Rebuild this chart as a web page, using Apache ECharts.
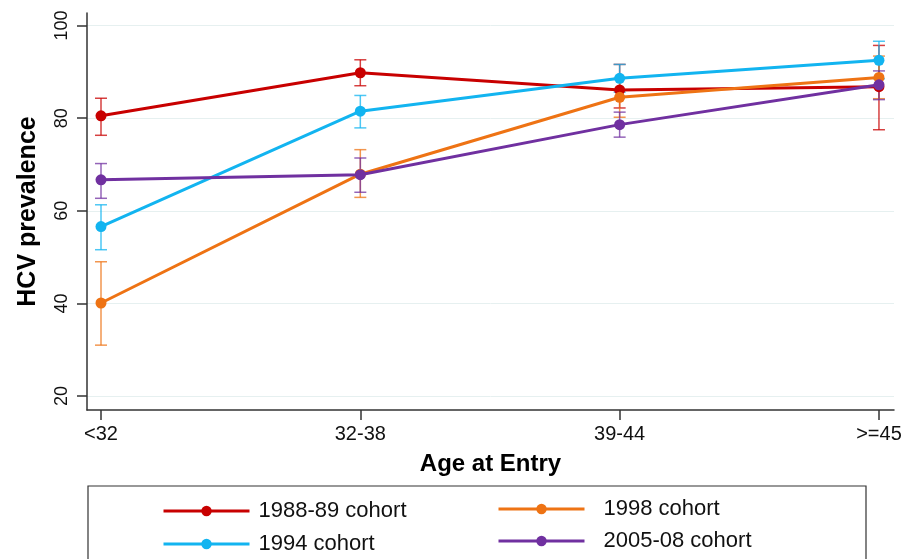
<!DOCTYPE html>
<html>
<head>
<meta charset="utf-8">
<script src="https://cdn.jsdelivr.net/npm/echarts@6/dist/echarts.min.js"></script>
<style>html,body{margin:0;padding:0;background:#fff;}#c{width:901px;height:559px;}</style>
</head>
<body>
<div id="c"></div>
<script>
const categories = ['<32', '32-38', '39-44', '>=45'];
const yTicks = [20, 40, 60, 80, 100];
const seriesNames = ['1988-89 cohort', '1994 cohort', '1998 cohort', '2005-08 cohort'];

const cohort8889 = [80.5, 89.8, 86.1, 86.8];
const cohort8889Low = [76.3, 87.0, 82.2, 77.5];
const cohort8889High = [84.3, 92.6, 91.6, 95.7];

const cohort1994 = [56.6, 81.5, 88.6, 92.5];
const cohort1994Low = [51.6, 77.9, 85.6, 88.5];
const cohort1994High = [61.3, 84.9, 91.6, 96.6];

const cohort1998 = [40.1, 67.9, 84.5, 88.8];
const cohort1998Low = [31.0, 62.9, 80.2, 84.2];
const cohort1998High = [49.0, 73.2, 88.6, 93.4];

const cohort0508 = [66.7, 67.8, 78.6, 87.2];
const cohort0508Low = [62.7, 64.0, 75.9, 84.0];
const cohort0508High = [70.2, 71.4, 81.3, 90.2];

const colors = ['#c80000', '#12b4f0', '#ee7314', '#7030a0'];
const values = [cohort8889, cohort1994, cohort1998, cohort0508];
const lows = [cohort8889Low, cohort1994Low, cohort1998Low, cohort0508Low];
const highs = [cohort8889High, cohort1994High, cohort1998High, cohort0508High];

function errRender(color) {
  return function (params, api) {
    const x = api.value(0), lo = api.value(1), hi = api.value(2);
    const a = api.coord([x, lo]), b = api.coord([x, hi]);
    const w = 6;
    const style = { stroke: color, lineWidth: 1.5, opacity: 0.75 };
    return {
      type: 'group',
      children: [
        { type: 'line', shape: { x1: a[0], y1: a[1], x2: b[0], y2: b[1] }, style },
        { type: 'line', shape: { x1: a[0] - w, y1: a[1], x2: a[0] + w, y2: a[1] }, style },
        { type: 'line', shape: { x1: b[0] - w, y1: b[1], x2: b[0] + w, y2: b[1] }, style }
      ]
    };
  };
}

const series = [];
for (let s = 0; s < 4; s++) {
  series.push({
    type: 'custom',
    name: seriesNames[s] + ' CI',
    renderItem: errRender(colors[s]),
    encode: { x: 0, y: [1, 2] },
    data: categories.map((c, i) => [i, lows[s][i], highs[s][i]]),
    z: 1,
    silent: true
  });
}
for (let s = 0; s < 4; s++) {
  series.push({
    type: 'line',
    name: seriesNames[s],
    data: categories.map((c, i) => [i, values[s][i]]),
    symbol: 'circle',
    symbolSize: 11,
    lineStyle: { color: colors[s], width: 3 },
    itemStyle: { color: colors[s] },
    z: 3 + s
  });
}

const legendText = { fontFamily: 'Liberation Sans', fontSize: 22, color: '#111' };
function legendAt(name, left, top, gap) {
  return {
    data: [name], orient: 'horizontal', left: left, top: top, padding: 0,
    itemWidth: 86, itemHeight: 13, itemGap: 10,
    lineStyle: { width: 3 },
    textStyle: Object.assign({ padding: [0, 0, 0, gap] }, legendText)
  };
}

const chart = echarts.init(document.getElementById('c'));
chart.setOption({
  animation: false,
  backgroundColor: '#fff',
  grid: { left: 87, right: 7, top: 13, bottom: 149, containLabel: false, outerBoundsMode: 'none' },
  xAxis: {
    type: 'value',
    min: -0.054,
    max: 3.058,
    name: 'Age at Entry',
    nameLocation: 'middle',
    nameGap: 42,
    nameTextStyle: { fontFamily: 'Liberation Sans', fontWeight: 'bold', fontSize: 24, color: '#000' },
    axisLine: { show: true, onZero: false, lineStyle: { color: '#333', width: 1.5 } },
    axisTick: { show: true, length: 10, lineStyle: { color: '#333', width: 1.5 }, customValues: [0, 1, 2, 3] },
    axisLabel: {
      customValues: [0, 1, 2, 3],
      formatter: v => categories[Math.round(v)],
      fontFamily: 'Liberation Sans', fontSize: 20, color: '#111', margin: 14
    },
    splitLine: { show: false }
  },
  yAxis: {
    type: 'value',
    min: 17,
    max: 102.7,
    name: 'HCV prevalence',
    nameLocation: 'middle',
    nameGap: 46,
    nameTextStyle: { fontFamily: 'Liberation Sans', fontWeight: 'bold', fontSize: 25, color: '#000' },
    axisLine: { show: true, onZero: false, lineStyle: { color: '#333', width: 1.5 } },
    axisTick: { show: true, length: 10, lineStyle: { color: '#333', width: 1.5 }, customValues: yTicks },
    axisLabel: {
      customValues: yTicks,
      rotate: 90,
      fontFamily: 'Liberation Sans', fontSize: 18, color: '#111', margin: 16
    },
    splitLine: { show: true, lineStyle: { color: '#e6f0f0', width: 1 } }
  },
  legend: [
    legendAt(seriesNames[0], 162, 500, 4),
    legendAt(seriesNames[1], 162, 533, 4),
    legendAt(seriesNames[2], 497, 498, 14),
    legendAt(seriesNames[3], 497, 530, 14)
  ],
  graphic: [
    { type: 'rect', shape: { x: 88, y: 486, width: 778, height: 90 }, style: { fill: 'none', stroke: '#333', lineWidth: 1.2 }, z: -1 }
  ],
  series
});
</script>
</body>
</html>
